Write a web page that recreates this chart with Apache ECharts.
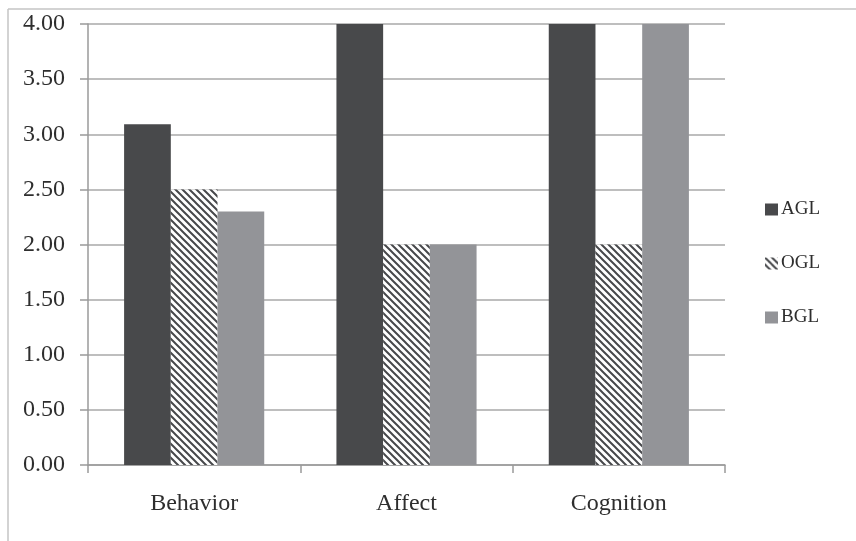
<!DOCTYPE html>
<html>
<head>
<meta charset="utf-8">
<script src="https://cdn.jsdelivr.net/npm/echarts@6/dist/echarts.min.js"></script>
<style>
  html, body { margin: 0; padding: 0; background: #fff; }
  #chart { width: 856px; height: 541px; }
</style>
</head>
<body>
<div id="chart"></div>
<script>
const categories = ['Behavior', 'Affect', 'Cognition'];
const seriesNames = ['AGL', 'OGL', 'BGL'];
const aglValues = [3.09, 4.00, 4.00];
const oglValues = [2.50, 2.00, 2.00];
const bglValues = [2.30, 2.00, 4.00];
const yTicks = [0, 0.5, 1, 1.5, 2, 2.5, 3, 3.5, 4];

// Diagonal hatch fill for the OGL bars
function makeHatch() {
  const size = 7;
  const c = document.createElement('canvas');
  c.width = size; c.height = size;
  const ctx = c.getContext('2d');
  ctx.fillStyle = '#ffffff';
  ctx.fillRect(0, 0, size, size);
  ctx.strokeStyle = '#47484b';
  ctx.lineWidth = 2;
  ctx.beginPath();
  for (let k = -1; k <= 1; k++) {
    ctx.moveTo(k * size - 1, -1);
    ctx.lineTo(k * size + size + 1, size + 1);
  }
  ctx.stroke();
  return c;
}

const FONT = '"Liberation Serif", "DejaVu Serif", serif';
const chart = echarts.init(document.getElementById('chart'));

chart.setOption({
  animation: false,
  backgroundColor: '#ffffff',
  graphic: [
    { type: 'line', shape: { x1: 8, y1: 9, x2: 856, y2: 9 }, style: { stroke: '#c4c4c4', lineWidth: 1.5 } },
    { type: 'line', shape: { x1: 8, y1: 9, x2: 8, y2: 541 }, style: { stroke: '#c4c4c4', lineWidth: 1.5 } }
  ],
  grid: { left: 88, top: 24, right: 131, bottom: 76 },
  legend: {
    orient: 'vertical',
    left: 760,
    top: 195,
    itemWidth: 13,
    itemHeight: 12,
    itemGap: 35,
    icon: 'rect',
    textStyle: { fontFamily: FONT, fontSize: 19, color: '#2e2e2e', padding: [5, 0, 0, -2] },
    data: seriesNames
  },
  xAxis: {
    type: 'category',
    data: categories,
    axisLine: { lineStyle: { color: '#9a9a9a', width: 1.5 } },
    axisTick: { show: true, length: 8, alignWithLabel: false, lineStyle: { color: '#9a9a9a', width: 1.5 } },
    axisLabel: { fontFamily: FONT, fontSize: 24, color: '#2e2e2e', margin: 27 }
  },
  yAxis: {
    type: 'value',
    min: 0,
    max: 4,
    interval: 0.5,
    axisLine: { show: true, lineStyle: { color: '#9a9a9a', width: 1.5 } },
    axisTick: { show: true, length: 8, lineStyle: { color: '#9a9a9a', width: 1.5 } },
    splitLine: { lineStyle: { color: '#a8a8a8', width: 1.5 } },
    axisLabel: {
      fontFamily: FONT, fontSize: 24, color: '#2e2e2e', margin: 23,
      formatter: v => yTicks.includes(v) ? v.toFixed(2) : ''
    }
  },
  series: [
    {
      name: seriesNames[0], type: 'bar', data: aglValues,
      barGap: '0%', barCategoryGap: '34%',
      itemStyle: { color: '#48494b' }
    },
    {
      name: seriesNames[1], type: 'bar', data: oglValues,
      barGap: '0%', barCategoryGap: '34%',
      itemStyle: { color: { image: makeHatch(), repeat: 'repeat' } }
    },
    {
      name: seriesNames[2], type: 'bar', data: bglValues,
      barGap: '0%', barCategoryGap: '34%',
      itemStyle: { color: '#939498' }
    }
  ]
});
</script>
</body>
</html>
